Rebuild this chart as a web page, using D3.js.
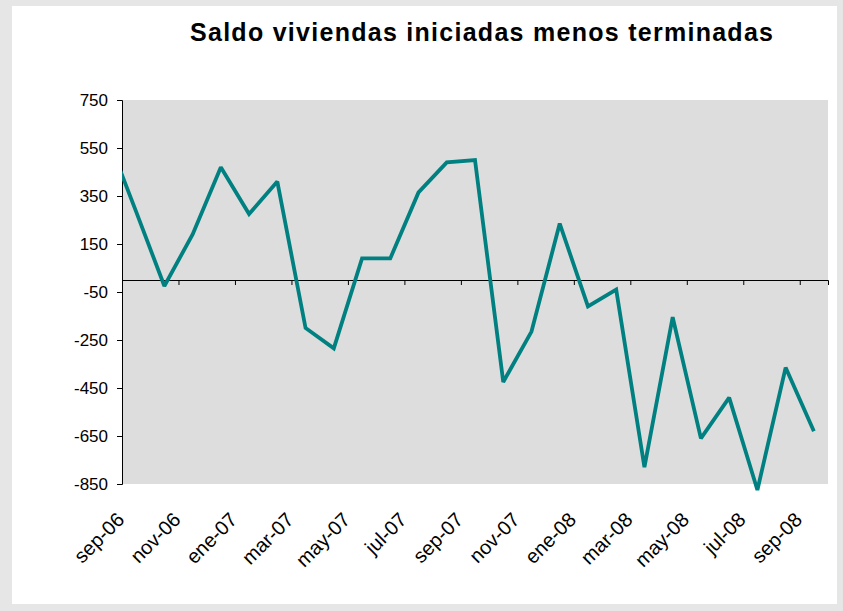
<!DOCTYPE html>
<html>
<head>
<meta charset="utf-8">
<script src="https://cdn.jsdelivr.net/npm/d3@7"></script>
<style>
  html, body { margin: 0; padding: 0; background: #e6e6e6; }
  svg { display: block; font-family: "Liberation Sans", Arial, Helvetica, sans-serif; }
</style>
</head>
<body>
<svg id="chart" width="843" height="611"></svg>
<script>
// Monthly series (first month partly outside the axis range, clipped at the y axis)
const months = ["ago-06","sep-06","oct-06","nov-06","dic-06","ene-07","feb-07","mar-07","abr-07","may-07","jun-07","jul-07","ago-07","sep-07","oct-07","nov-07","dic-07","ene-08","feb-08","mar-08","abr-08","may-08","jun-08","jul-08","ago-08","sep-08"];
const saldo = [590, 285, -25, 190, 470, 275, 410, -200, -285, 90, 90, 365, 490, 500, -425, -215, 235, -110, -40, -780, -155, -660, -490, -875, -365, -630];
const xTickLabels = ["sep-06","nov-06","ene-07","mar-07","may-07","jul-07","sep-07","nov-07","ene-08","mar-08","may-08","jul-08","sep-08"];
const yTicks = [750, 550, 350, 150, -50, -250, -450, -650, -850];
const title = "Saldo viviendas iniciadas menos terminadas";

const svg = d3.select("#chart");
const W = 843, H = 611;
const plot = {left: 122, right: 828, top: 100, bottom: 484};

svg.append("rect").attr("width", W).attr("height", H).attr("fill", "#e6e6e6");
svg.append("rect").attr("x", 12).attr("y", 6).attr("width", 825).attr("height", 598).attr("fill", "#ffffff");

// month offset scale: 0 = start of sep-06, 25 = start of oct-08
const x = d3.scaleLinear().domain([0, 25]).range([plot.left, plot.right]);
const y = d3.scaleLinear().domain([-850, 750]).range([plot.bottom, plot.top]);

svg.append("rect")
  .attr("x", plot.left).attr("y", plot.top)
  .attr("width", plot.right - plot.left).attr("height", plot.bottom - plot.top)
  .attr("fill", "#dddddd");

// title
svg.append("text")
  .attr("x", 190).attr("y", 41)
  .attr("text-anchor", "start")
  .attr("font-size", 25).attr("font-weight", "bold")
  .attr("textLength", 583).attr("lengthAdjust", "spacing")
  .attr("fill", "#000")
  .text(title);

// y axis
const yAxis = svg.append("g")
  .attr("transform", `translate(${plot.left},0)`)
  .call(d3.axisLeft(y).tickValues(yTicks).tickSize(5).tickPadding(9).tickFormat(d => String(d)));
yAxis.select(".domain").attr("stroke", "#000").attr("stroke-width", 1);
yAxis.selectAll(".tick line").attr("stroke", "#000");
yAxis.selectAll("text").attr("font-size", 17).attr("fill", "#000").attr("font-family", "Liberation Sans, Arial, sans-serif");

// zero line with tick marks
const tickIdx = xTickLabels.map((d, i) => i * 2);
const zeroAxis = svg.append("g")
  .attr("transform", `translate(0,${y(0)})`)
  .call(d3.axisBottom(x).tickValues(tickIdx).tickSize(5).tickFormat(""));
zeroAxis.select(".domain").attr("stroke", "#000").attr("stroke-width", 1);
zeroAxis.selectAll(".tick line").attr("stroke", "#000");

// category labels
const xLab = svg.append("g")
  .attr("transform", `translate(0,${plot.bottom})`)
  .call(d3.axisBottom(x).tickValues(tickIdx).tickSize(0).tickFormat((d, i) => xTickLabels[i]));
xLab.select(".domain").remove();
xLab.selectAll("text")
  .attr("font-size", 20).attr("fill", "#000")
  .attr("font-family", "Liberation Sans, Arial, sans-serif")
  .attr("text-anchor", "end")
  .attr("x", 0).attr("y", 0).attr("dy", 0)
  .attr("transform", "translate(3,37) rotate(-45)");

// clip at the y axis on the left
svg.append("clipPath").attr("id", "clipL")
  .append("rect").attr("x", plot.left).attr("y", 0).attr("width", W - plot.left).attr("height", H);

const line = d3.line()
  .x((d, i) => x(i - 1 + 0.5))
  .y(d => y(d));

svg.append("path")
  .datum(saldo)
  .attr("clip-path", "url(#clipL)")
  .attr("d", line)
  .attr("fill", "none")
  .attr("stroke", "#008080")
  .attr("stroke-width", 3.8)
  .attr("stroke-linejoin", "miter")
  .attr("stroke-miterlimit", 2);
</script>
</body>
</html>
